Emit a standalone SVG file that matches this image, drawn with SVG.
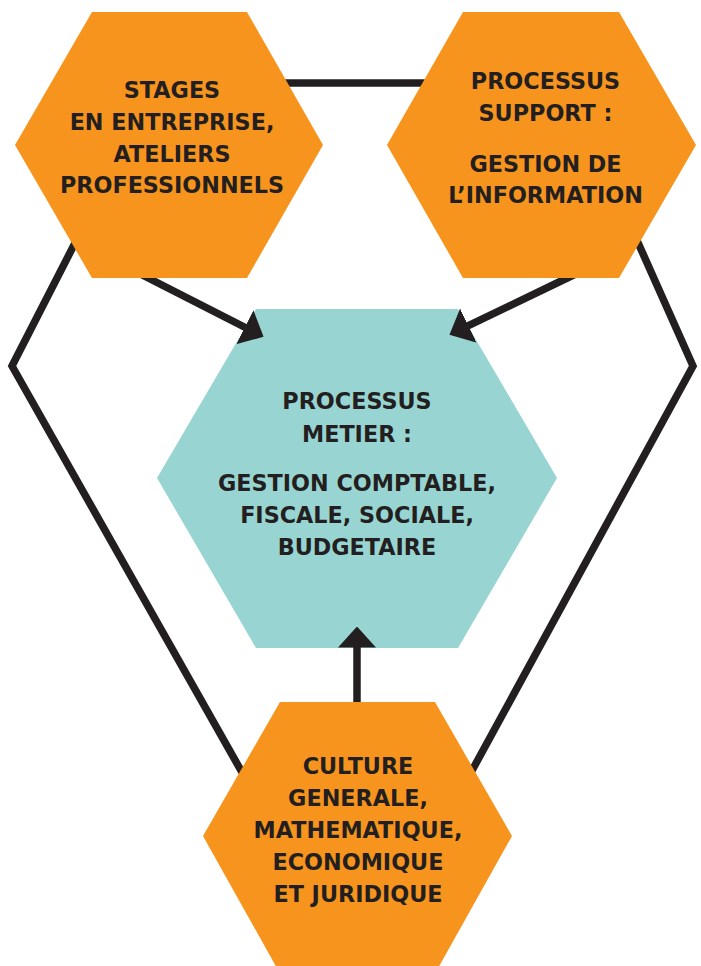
<svg xmlns="http://www.w3.org/2000/svg" width="701" height="966" viewBox="0 0 701 966">
<defs>
<style>
.orange{fill:#F7941D;}
.teal{fill:#98D5D2;}
.lbl{font-family:"DejaVu Sans","Liberation Sans",sans-serif;font-weight:bold;font-size:22.3px;fill:#231F20;text-anchor:middle;}
.con{fill:none;stroke:#231F20;stroke-width:7.5;stroke-linejoin:miter;}
</style>
<marker id="arr" markerUnits="userSpaceOnUse" markerWidth="21" markerHeight="38" viewBox="0 0 21 38" refX="0.5" refY="19" orient="auto">
<path d="M0,0 L21,19 L0,38 z" fill="#231F20"/>
</marker>
</defs>
<rect width="701" height="966" fill="#ffffff"/>
<g id="node-metier">
<polygon class="teal" points="256,309 458,309 557,478 458,648 256,648 157,478"/>
<text class="lbl" x="357" y="409">PROCESSUS</text>
<text class="lbl" x="357" y="441.5">METIER :</text>
<text class="lbl" x="357" y="490.5">GESTION COMPTABLE,</text>
<text class="lbl" x="357" y="522.5">FISCALE, SOCIALE,</text>
<text class="lbl" x="357" y="555">BUDGETAIRE</text>
</g>
<g id="connectors">
<line class="con" x1="240" y1="83" x2="470" y2="83"/>
<polyline class="con" points="97,200 12,366 269,820"/>
<polyline class="con" points="619,200 693,366 445,820"/>
<line class="con" x1="128.6" y1="268" x2="245.3" y2="327.5" marker-end="url(#arr)"/>
<line class="con" x1="588" y1="268" x2="467.9" y2="325.9" marker-end="url(#arr)"/>
<line class="con" x1="357" y1="720" x2="357" y2="647" marker-end="url(#arr)"/>
</g>
<g id="node-stages">
<polygon class="orange" points="92,12 247,12 323,145 247,278 92,278 15,145"/>
<text class="lbl" x="172" y="98">STAGES</text>
<text class="lbl" x="172" y="130">EN ENTREPRISE,</text>
<text class="lbl" x="172" y="161.7">ATELIERS</text>
<text class="lbl" x="172" y="193.3">PROFESSIONNELS</text>
</g>
<g id="node-support">
<polygon class="orange" points="463,12 619,12 696,145 619,278 463,278 387,145"/>
<text class="lbl" x="545.5" y="89.3">PROCESSUS</text>
<text class="lbl" x="545.5" y="120.7">SUPPORT :</text>
<text class="lbl" x="545.5" y="171.7">GESTION DE</text>
<text class="lbl" x="545.5" y="203.3">L’INFORMATION</text>
</g>
<g id="node-culture">
<polygon class="orange" points="280,702 435,702 512,836 437,970 278,970 203,836"/>
<text class="lbl" x="358" y="774">CULTURE</text>
<text class="lbl" x="358" y="805.7">GENERALE,</text>
<text class="lbl" x="358" y="838.3">MATHEMATIQUE,</text>
<text class="lbl" x="358" y="870">ECONOMIQUE</text>
<text class="lbl" x="358" y="901.7">ET JURIDIQUE</text>
</g>
</svg>
